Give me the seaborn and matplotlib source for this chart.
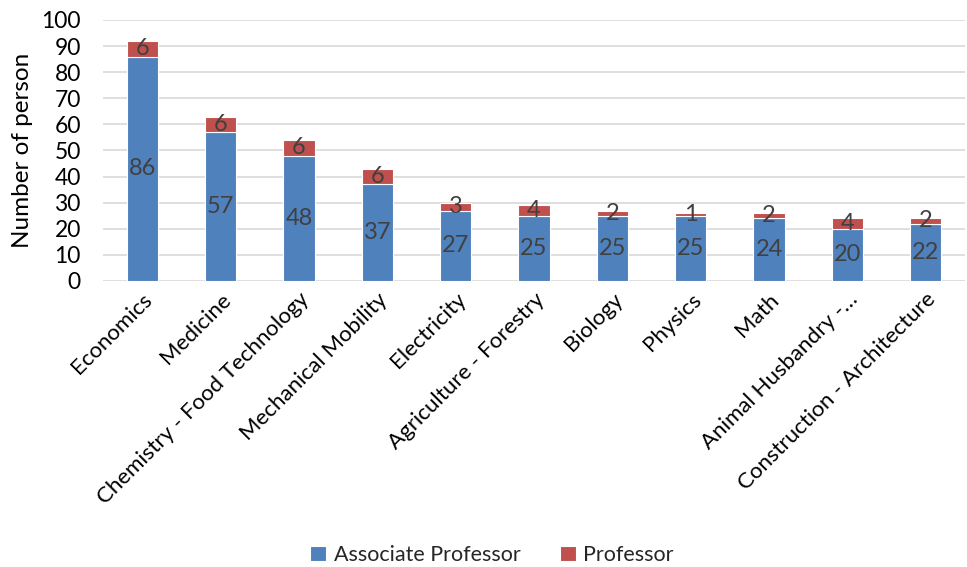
import matplotlib
matplotlib.use("Agg")
import matplotlib.pyplot as plt
import seaborn as sns
import pandas as pd

categories = ["Economics", "Medicine", "Chemistry - Food Technology", "Mechanical Mobility",
              "Electricity", "Agriculture - Forestry", "Biology", "Physics", "Math",
              "Animal Husbandry -\u2026", "Construction - Architecture"]
associate = [86, 57, 48, 37, 27, 25, 25, 25, 24, 20, 22]
professor = [6, 6, 6, 6, 3, 4, 2, 1, 2, 4, 2]
y_ticks = [0, 10, 20, 30, 40, 50, 60, 70, 80, 90, 100]

sns.set_theme(style="white")
plt.rcParams["font.family"] = ["Lato", "DejaVu Sans"]

BLUE = "#4F81BD"
RED = "#C0504D"

df = pd.DataFrame({"cat": categories, "assoc": associate, "prof": professor})

W, H = 967, 567
fig = plt.figure(figsize=(W / 100, H / 100), dpi=100)
ax = fig.add_axes([103 / W, 1 - 281 / H, (965 - 103) / W, (281 - 20) / H])

sns.barplot(data=df, x="cat", y="assoc", color=BLUE, width=0.4, ax=ax,
            saturation=1, edgecolor="white", linewidth=0.8, label="Associate Professor", zorder=3)
sns.barplot(data=df, x="cat", y="prof", color=RED, width=0.4, ax=ax, bottom=df["assoc"],
            saturation=1, edgecolor="white", linewidth=0.8, label="Professor", zorder=3)

for cont in ax.containers:
    ax.bar_label(cont, label_type="center", fontsize=17, color="#404040")

ax.set_ylim(0, 100)
ax.set_xlim(-0.5, len(categories) - 0.5)
ax.set_yticks(y_ticks)
ax.yaxis.grid(True, color="#D9D9D9", linewidth=1.2, zorder=0)
ax.set_axisbelow(True)
for s in ax.spines.values():
    s.set_visible(False)
ax.tick_params(axis="both", length=0, labelsize=16.5, colors="black")
ax.tick_params(axis="y", pad=16)
ax.tick_params(axis="x", pad=6)
ax.set_xlabel("")
ax.set_ylabel("Number of person", fontsize=17.5, color="black", labelpad=6)
ax.set_xticks(range(len(categories)))
ax.set_xticklabels(categories, rotation=45, ha="right", rotation_mode="anchor", fontsize=16)

handles, labels = ax.get_legend_handles_labels()
if ax.get_legend():
    ax.get_legend().remove()
fig.legend(handles, labels, loc="center", bbox_to_anchor=(492 / W, 1 - 555 / H),
           ncol=2, frameon=False, fontsize=15.5,
           handlelength=0.75, handleheight=0.75, handletextpad=0.35, columnspacing=1.8)

fig.savefig("out.png", dpi=100)
